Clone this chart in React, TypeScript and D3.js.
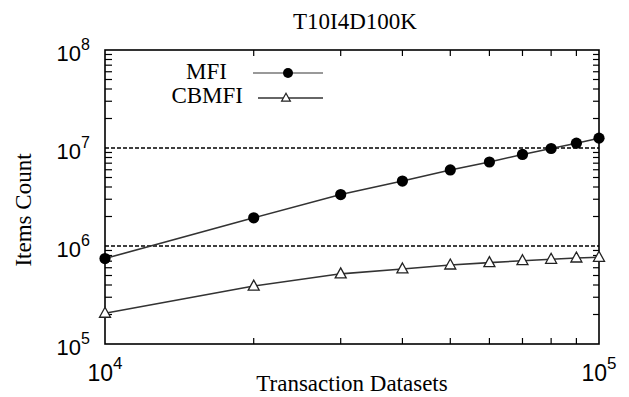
import * as d3 from "d3";

const sizes = [1e4, 2e4, 3e4, 4e4, 5e4, 6e4, 7e4, 8e4, 9e4, 1e5];
const mfi = [7.45e5, 1.94e6, 3.35e6, 4.6e6, 5.97e6, 7.2e6, 8.59e6, 9.88e6, 1.12e7, 1.26e7];
const cbmfi = [2.06e5, 3.9e5, 5.2e5, 5.83e5, 6.4e5, 6.76e5, 7.08e5, 7.32e5, 7.54e5, 7.67e5];
const yDecades = [1e5, 1e6, 1e7, 1e8];
const gridDecades = [1e6, 1e7];
const xDecades = [1e4, 1e5];

const width = 629;
const height = 397;
const margin = { top: 50, right: 30, bottom: 53, left: 105 };
const serif = "'Liberation Serif', 'Times New Roman', serif";
const sans = "'Liberation Sans', Arial, sans-serif";

export default function App() {
  const x = d3.scaleLog().domain([1e4, 1e5]).range([margin.left, width - margin.right]);
  const y = d3.scaleLog().domain([1e5, 1e8]).range([height - margin.bottom, margin.top]);
  const [x0, x1] = x.range();
  const [y0, y1] = y.range();

  // minor ticks 2..9 in each decade
  const yMinor = yDecades.slice(0, -1).flatMap(d => d3.range(2, 10).map(k => d * k));
  const xMinor = d3.range(2, 10).map(k => 1e4 * k);

  const line = d3.line<number>()
    .x((_, i) => x(sizes[i]))
    .y(d => y(d));

  const tri = (cx: number, cy: number, s: number) =>
    `M${cx},${cy - s * 0.6}L${cx + s * 0.55},${cy + s * 0.4}L${cx - s * 0.55},${cy + s * 0.4}Z`;

  const lineStyle = { fill: "none", stroke: "#333", strokeWidth: 1.6 };

  return (
    <svg width={width} height={height} style={{ position: "absolute", left: 0, top: 0, background: "#fff" }}>
      <rect width={width} height={height} fill="#fff" />
      <text x={355} y={29} textAnchor="middle" fontFamily={serif} fontSize={23}>T10I4D100K</text>

      {/* grid */}
      {gridDecades.map(d => (
        <line key={d} x1={x0} x2={x1} y1={y(d)} y2={y(d)} stroke="#000" strokeWidth={1.3} strokeDasharray="4,2" />
      ))}

      {/* y ticks */}
      {yMinor.map(v => (
        <g key={v}>
          <line x1={x0} x2={x0 + 7} y1={y(v)} y2={y(v)} stroke="#000" strokeWidth={1.2} />
          <line x1={x1} x2={x1 - 6} y1={y(v)} y2={y(v)} stroke="#000" strokeWidth={1.2} />
        </g>
      ))}
      {yDecades.map(v => (
        <text key={v} x={90} y={y(v) + 10.5} textAnchor="end" fontFamily={sans} fontSize={22} fill="#000">
          10<tspan fontSize={16} dy={-11}>{Math.round(Math.log10(v))}</tspan>
        </text>
      ))}

      {/* x ticks */}
      {xMinor.map(v => (
        <g key={v}>
          <line x1={x(v)} x2={x(v)} y1={y0} y2={y0 - 6} stroke="#000" strokeWidth={1.2} />
          <line x1={x(v)} x2={x(v)} y1={y1} y2={y1 + 6} stroke="#000" strokeWidth={1.2} />
        </g>
      ))}
      {xDecades.map(v => (
        <text key={v} x={x(v)} y={381} textAnchor="middle" fontFamily={sans} fontSize={23} fill="#000">
          10<tspan fontSize={17} dy={-12}>{Math.round(Math.log10(v))}</tspan>
        </text>
      ))}

      {/* frame */}
      <rect x={x0} y={y1} width={x1 - x0} height={y0 - y1} fill="none" stroke="#000" strokeWidth={1.6} />

      {/* series */}
      <path d={line(mfi)!} {...lineStyle} />
      <path d={line(cbmfi)!} {...lineStyle} />
      {mfi.map((v, i) => (
        <circle key={i} cx={x(sizes[i])} cy={y(v)} r={5.6} fill="#000" />
      ))}
      {cbmfi.map((v, i) => (
        <path key={i} d={tri(x(sizes[i]), y(v), 10)} fill="#fff" stroke="#222" strokeWidth={1.3} />
      ))}

      {/* legend */}
      <text x={227} y={79} textAnchor="end" fontFamily={serif} fontSize={23}>MFI</text>
      <line x1={253} x2={323} y1={73} y2={73} stroke="#777" strokeWidth={1.6} />
      <circle cx={288} cy={73} r={5} fill="#000" />
      <text x={243} y={103} textAnchor="end" fontFamily={serif} fontSize={23}>CBMFI</text>
      <line x1={258} x2={323} y1={98} y2={98} stroke="#333" strokeWidth={1.6} />
      <path d={tri(286, 98, 8)} fill="#fff" stroke="#222" strokeWidth={1.2} />

      {/* axis titles */}
      <text x={352} y={391} textAnchor="middle" fontFamily={serif} fontSize={23}>Transaction Datasets</text>
      <text transform={`translate(31,210) rotate(-90)`} textAnchor="middle" fontFamily={serif} fontSize={23}>Items Count</text>
    </svg>
  );
}
